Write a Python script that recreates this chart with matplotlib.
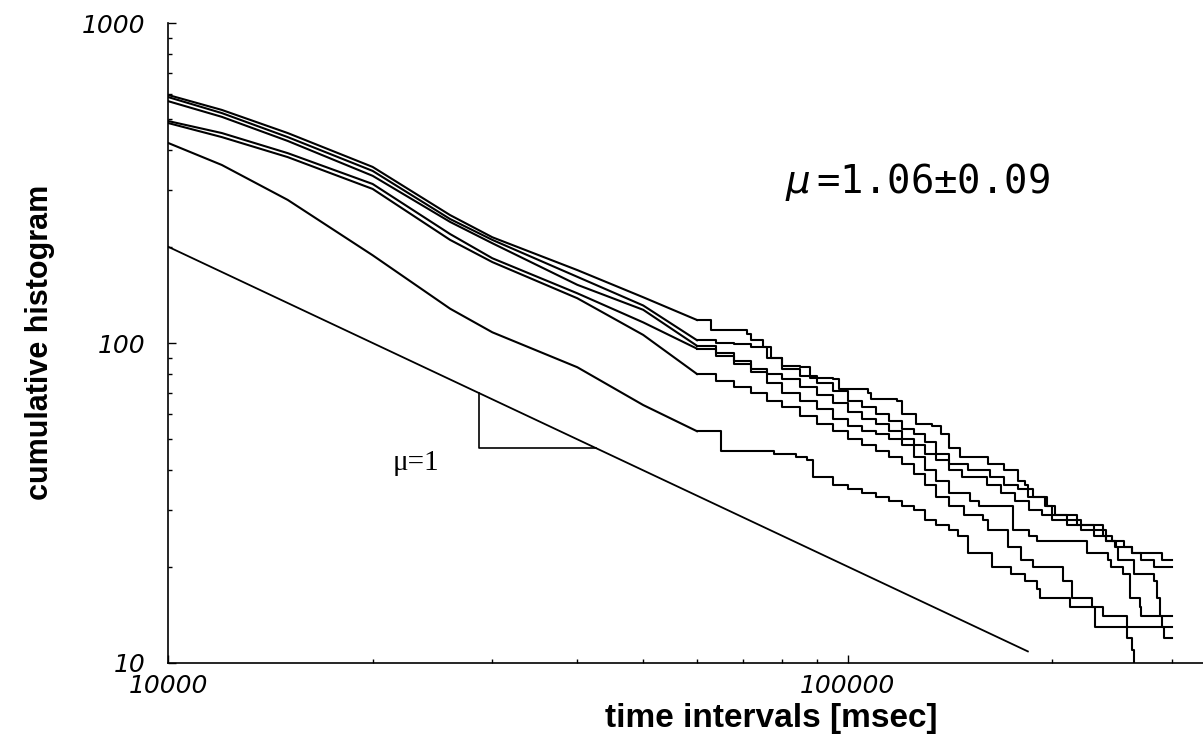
import matplotlib
matplotlib.use("Agg")
import matplotlib.pyplot as plt
from matplotlib import font_manager

# six cumulative histograms
# drawn as a line up to 6e4, as steps from there on
a_x = [1e4, 1.2e4, 1.5e4, 2e4, 2.6e4, 3e4, 4e4, 5e4, 6e4, 6.3e4, 7.1e4, 7.2e4, 7.5e4, 7.7e4, 8e4, 8.5e4,
       8.8e4, 9.5e4, 9.7e4, 1.07e5, 1.08e5, 1.18e5, 1.2e5, 1.26e5, 1.33e5, 1.37e5, 1.41e5,
       1.46e5, 1.61e5, 1.70e5, 1.78e5, 1.82e5, 1.84e5, 1.96e5, 2.0e5, 2.17e5, 2.37e5, 2.45e5, 2.47e5,
       2.62e5, 2.9e5, 3.0e5]
a_y = [596, 535, 453, 355, 251, 214, 169, 139, 118, 110, 107, 102, 97, 90, 85, 84,
       78, 77, 72, 70, 67, 66, 60, 56, 55, 52, 47,
       44, 42, 40, 37, 36, 33, 31, 29, 27, 25, 24, 23,
       22, 21, 21]

b_x = [1e4, 1.2e4, 1.5e4, 2e4, 2.6e4, 3e4, 4e4, 5e4, 6e4, 6.4e4, 6.8e4, 7.2e4, 7.6e4, 8e4, 8.5e4, 9e4,
       9.5e4, 1e5, 1.05e5, 1.1e5, 1.15e5, 1.2e5, 1.25e5, 1.3e5, 1.35e5, 1.41e5,
       1.5e5, 1.62e5, 1.7e5, 1.78e5, 1.87e5, 1.95e5, 2.02e5, 2.1e5, 2.2e5, 2.3e5, 2.4e5, 2.55e5,
       2.62e5, 2.7e5, 2.82e5, 3.0e5]
b_y = [587, 523, 440, 345, 244, 210, 161, 131, 102, 100, 99, 97, 90, 83, 79, 75,
       71, 66, 63, 60, 57, 54, 52, 49, 45, 42,
       40, 38, 36, 35, 33, 31, 29, 28, 27, 26, 24, 23,
       22, 21, 20, 20]

c_x = [1e4, 1.2e4, 1.5e4, 2e4, 2.6e4, 3e4, 4e4, 5e4, 6e4, 6.4e4, 6.8e4, 7.2e4, 7.6e4, 8e4, 8.5e4, 9e4,
       9.5e4, 1e5, 1.05e5, 1.1e5, 1.15e5, 1.2e5, 1.25e5, 1.3e5, 1.35e5, 1.41e5,
       1.47e5, 1.6e5, 1.68e5, 1.76e5, 1.85e5, 1.93e5, 2.0e5, 2.1e5, 2.2e5, 2.3e5, 2.4e5, 2.48e5,
       2.5e5, 2.64e5, 2.82e5, 2.85e5, 2.88e5, 2.9e5, 2.92e5, 3.0e5]
c_y = [570, 509, 428, 333, 239, 205, 152, 127, 98, 93, 88, 83, 80, 77, 73, 69,
       65, 61, 58, 56, 53, 50, 48, 45, 43, 40,
       38, 36, 34, 32, 30, 29, 28, 27, 26, 25, 24, 23,
       21, 19, 18, 16, 14, 13, 12, 12]

d_x = [1e4, 1.2e4, 1.5e4, 2e4, 2.6e4, 3e4, 4e4, 5e4, 6e4, 6.4e4, 6.8e4, 7.2e4, 7.6e4, 8e4, 8.5e4, 9e4,
       9.5e4, 1e5, 1.05e5, 1.1e5, 1.15e5, 1.2e5, 1.25e5, 1.3e5, 1.35e5, 1.41e5,
       1.51e5, 1.56e5, 1.75e5, 1.85e5, 1.9e5, 2.25e5, 2.41e5, 2.44e5, 2.54e5, 2.6e5, 2.69e5, 2.7e5, 3.0e5]
d_y = [494, 453, 392, 314, 219, 184, 143, 116, 96, 91, 86, 81, 75, 70, 66, 62,
       58, 55, 53, 52, 50, 48, 44, 40, 37, 34,
       32, 31, 26, 25, 24, 22, 21, 20, 19, 16, 15, 14, 14]

e_x = [1e4, 1.2e4, 1.5e4, 2e4, 2.6e4, 3e4, 4e4, 5e4, 6e4, 6.4e4, 6.8e4, 7.2e4, 7.6e4, 8e4, 8.5e4, 9e4,
       9.5e4, 1e5, 1.05e5, 1.1e5, 1.15e5, 1.2e5, 1.25e5, 1.3e5, 1.35e5, 1.41e5,
       1.48e5, 1.58e5, 1.61e5, 1.72e5, 1.8e5, 1.87e5, 2.07e5, 2.14e5, 2.29e5, 2.37e5, 2.57e5, 2.62e5, 2.64e5]
e_y = [487, 440, 381, 303, 210, 179, 138, 106, 80, 76, 73, 70, 66, 63, 59, 56,
       53, 50, 48, 46, 44, 42, 39, 36, 33, 31,
       29, 28, 26, 23, 21, 20, 18, 16, 15, 14, 12, 11, 9]

f_x = [1e4, 1.2e4, 1.5e4, 2e4, 2.6e4, 3e4, 4e4, 5e4, 6e4, 6.5e4, 7.8e4, 8.4e4, 8.7e4, 8.9e4, 9.5e4, 1e5,
       1.05e5, 1.1e5, 1.15e5, 1.2e5, 1.25e5, 1.3e5, 1.35e5, 1.41e5,
       1.45e5, 1.5e5, 1.63e5, 1.74e5, 1.82e5, 1.9e5, 1.92e5, 2.12e5, 2.31e5, 3.0e5]
f_y = [422, 360, 280, 188, 128, 108, 84, 64, 53, 46, 45, 44, 43, 38, 36, 35,
       34, 33, 32, 31, 30, 28, 27, 26,
       25, 22, 20, 19, 18, 17, 16, 15, 13, 13]

curves = [(a_x, a_y), (b_x, b_y), (c_x, c_y), (d_x, d_y), (e_x, e_y), (f_x, f_y)]
step_from = 6e4

# mu = 1 reference line and slope triangle
ref_x = [1e4, 1.84e5]
ref_y = [200, 10.87]
tri_x = [2.87e4, 2.87e4, 4.26e4]
tri_y = [69.7, 47, 47]

plt.rcParams["mathtext.fontset"] = "dejavusans"

fig = plt.figure(figsize=(12.03, 7.35), dpi=100)
ax = fig.add_axes([168 / 1203, 72 / 735, 1035 / 1203, 640 / 735])

for xs, ys in curves:
    head = [i for i, x in enumerate(xs) if x <= step_from]
    k = head[-1]
    ax.plot(xs[:k + 1], ys[:k + 1], color="black", lw=1.5)
    ax.plot(xs[k:], ys[k:], color="black", lw=1.5, drawstyle="steps-post")

ax.plot(ref_x, ref_y, color="black", lw=1.3)
ax.plot(tri_x, tri_y, color="black", lw=1.2)
ax.text(2.14e4, 42.2, "\u03bc=1", family="Liberation Serif", fontsize=21, ha="left", va="center")

ax.set_xscale("log")
ax.set_yscale("log")
ax.set_xlim(1e4, 3.33e5)
ax.set_ylim(10, 1000)

for s in ["top", "right"]:
    ax.spines[s].set_visible(False)
for s in ["left", "bottom"]:
    ax.spines[s].set_linewidth(1.2)

ax.set_xticks([1e4, 1e5])
ax.set_xticklabels(["10000", "100000"])
ax.set_yticks([10, 100, 1000])
ax.set_yticklabels(["10", "100", "1000"])
ax.tick_params(which="both", direction="in", width=1)
ax.tick_params(which="major", length=6)
ax.tick_params(which="minor", length=3)
ax.tick_params(axis="y", pad=16)
ax.tick_params(axis="x", pad=8)
for lab in ax.get_xticklabels() + ax.get_yticklabels():
    lab.set_fontstyle("italic")
    lab.set_fontsize(18)
    lab.set_family("DejaVu Sans")

# narrow bold face for the y label if there is one
try:
    font_manager.findfont("Liberation Sans Narrow", fallback_to_default=False)
    narrow = "Liberation Sans Narrow"
except Exception:
    narrow = "Liberation Sans"

fig.text(40 / 1203, 1 - 342 / 735, "cumulative histogram", rotation=90, ha="center", va="center",
         family=narrow, fontweight="bold", fontsize=22)
fig.text(771 / 1203, 1 - 718 / 735, "time intervals [msec]", ha="center", va="center",
         family="Liberation Sans", fontweight="bold", fontsize=24)

fig.text(785 / 1203, 1 - 182 / 735, "$\\mu\\,$=1.06\u00b10.09",
         ha="left", va="center", family="DejaVu Sans Mono", fontsize=28)

fig.savefig("out.png", dpi=100)
